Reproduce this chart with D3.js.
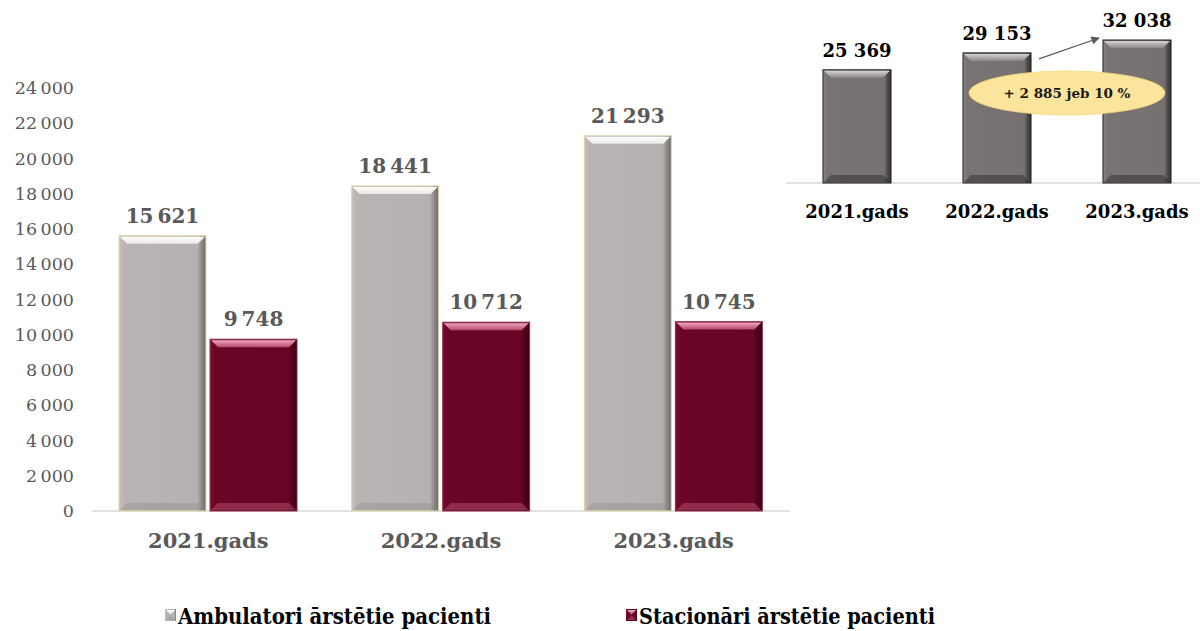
<!DOCTYPE html>
<html><head><meta charset="utf-8">
<script src="https://cdn.jsdelivr.net/npm/d3@7"></script>
<style>body{margin:0;background:#fff}svg{display:block}</style>
</head><body>
<svg id="c" width="1200" height="631"></svg>
<script>
const categories = ["2021.gads", "2022.gads", "2023.gads"];
const seriesNames = ["Ambulatori ārstētie pacienti", "Stacionāri ārstētie pacienti"];
const ambulatori = [15621, 18441, 21293];
const stacionari = [9748, 10712, 10745];
const totals = [25369, 29153, 32038];
const yTicks = [0,2000,4000,6000,8000,10000,12000,14000,16000,18000,20000,22000,24000];
const changeLabel = "+ 2 885 jeb 10 %";

const loc = d3.formatLocale({decimal: ",", thousands: "\u2009", grouping: [3], currency: ["", ""]});
const fmt = loc.format(",d");
const loc2 = d3.formatLocale({decimal: ",", thousands: " ", grouping: [3], currency: ["", ""]});
const fmt2 = loc2.format(",d");

const svg = d3.select("#c");
const defs = svg.append("defs");
function hgrad(id, stops){
  const g = defs.append("linearGradient").attr("id", id).attr("x1","0").attr("x2","1").attr("y1","0").attr("y2","0");
  stops.forEach(s=>g.append("stop").attr("offset",s[0]).attr("stop-color",s[1]));
}
function vgrad(id, stops){
  const g = defs.append("linearGradient").attr("id", id).attr("x1","0").attr("x2","0").attr("y1","0").attr("y2","1");
  stops.forEach(s=>g.append("stop").attr("offset",s[0]).attr("stop-color",s[1]));
}
hgrad("gGray", [[0,"#c4c0bf"],[0.06,"#b9b5b4"],[0.9,"#b5b1b0"],[0.95,"#8d8988"],[1,"#6e6a69"]]);
hgrad("gRed", [[0,"#7a0a2e"],[0.06,"#6b0525"],[0.9,"#680424"],[0.95,"#4e021a"],[1,"#3a0012"]]);
hgrad("gDark", [[0,"#8a8383"],[0.06,"#7a7373"],[0.9,"#767070"],[0.95,"#4f4a4a"],[1,"#333"]]);
vgrad("tGray", [[0,"#ffffff"],[1,"#e9e7e6"]]);
vgrad("tRed", [[0,"#f2a6bd"],[1,"#b34a6a"]]);
vgrad("tDark", [[0,"#d8d3d3"],[1,"#8d8686"]]);

const serif = "'DejaVu Serif','Liberation Serif',serif";

function bevelBar(g, x, y, w, h, fillId, topId, botColor, stroke, botOp){
  const b = Math.min(8, h/2);
  g.append("rect").attr("x",x).attr("y",y).attr("width",w).attr("height",h)
    .attr("fill",`url(#${fillId})`).attr("stroke",stroke).attr("stroke-width",1);
  g.append("path").attr("d",`M${x+1},${y+1}L${x+w-1},${y+1}L${x+w-b},${y+b}L${x+b},${y+b}Z`)
    .attr("fill",`url(#${topId})`);
  g.append("path").attr("d",`M${x+1},${y+h-1}L${x+w-1},${y+h-1}L${x+w-b},${y+h-b}L${x+b},${y+h-b}Z`)
    .attr("fill",botColor).attr("opacity",botOp);
}

// ---- main chart ----
const x0 = d3.scaleBand().domain(categories).range([92, 790]).paddingInner(0).paddingOuter(0);
const x1 = d3.scaleBand().domain([0,1]).range([27, 205]).paddingInner(0.045);
const y = d3.scaleLinear().domain([0, 24000]).range([511, 88]);

const yAxis = svg.append("g").attr("transform","translate(80,0)")
  .call(d3.axisLeft(y).tickValues(yTicks).tickSize(0).tickPadding(6).tickFormat(fmt));
yAxis.select(".domain").remove();
yAxis.selectAll("text").attr("font-family",serif).attr("font-size",17.5).attr("fill","#595959");

svg.append("line").attr("x1",92).attr("x2",790).attr("y1",y(0)).attr("y2",y(0))
  .attr("stroke","#d9d9d9").attr("stroke-width",1.5);

const series = [ambulatori, stacionari];
const styles = [
  {fill:"gGray", top:"tGray", bot:"#8a8685", stroke:"#e3d6a8", op:0.35},
  {fill:"gRed", top:"tRed", bot:"#c05a7a", stroke:"#8a3050", op:0.45}
];
categories.forEach((c,i)=>{
  series.forEach((s,j)=>{
    const bx = x0(c) + x1(j), bw = x1.bandwidth();
    const by = y(s[i]), bh = y(0) - y(s[i]);
    bevelBar(svg.append("g"), bx, by, bw, bh, styles[j].fill, styles[j].top, styles[j].bot, styles[j].stroke, styles[j].op);
    svg.append("text").attr("x", bx + bw/2).attr("y", by - 13)
      .attr("text-anchor","middle").attr("font-family",serif).attr("font-weight","bold")
      .attr("font-size",20).attr("fill","#595959").text(fmt(s[i]));
  });
  svg.append("text").attr("x", x0(c) + x0.bandwidth()/2).attr("y", 548)
    .attr("text-anchor","middle").attr("font-family",serif).attr("font-weight","bold")
    .attr("font-size",21).attr("fill","#595959").text(c);
});

// legend
const legendX = [165, 626];
const legendW = [313, 296];
seriesNames.forEach((n,j)=>{
  const g = svg.append("g");
  bevelBar(g, legendX[j], 609, 11, 12, styles[j].fill, styles[j].top, styles[j].bot, "none", styles[j].op);
  g.append("text").attr("x", legendX[j]+13).attr("y", 624)
    .attr("font-family",serif).attr("font-weight","bold").attr("font-size",22)
    .attr("fill","#000").attr("textLength", legendW[j]).attr("lengthAdjust","spacingAndGlyphs").text(n);
});

// ---- inset chart ----
const ix = d3.scaleBand().domain(categories).range([787, 1207]).paddingInner(0.514).paddingOuter(0.257);
const iy = d3.scaleLinear().domain([0, 41000]).range([183, 0]);
svg.append("line").attr("x1",786).attr("x2",1200).attr("y1",iy(0)).attr("y2",iy(0))
  .attr("stroke","#d9d9d9").attr("stroke-width",1.5);
categories.forEach((c,i)=>{
  const bx = ix(c), bw = ix.bandwidth();
  const by = iy(totals[i]), bh = iy(0)-iy(totals[i]);
  bevelBar(svg.append("g"), bx, by, bw, bh, "gDark", "tDark", "#2a2626", "#222", 0.45);
  svg.append("text").attr("x", bx+bw/2).attr("y", by-13)
    .attr("text-anchor","middle").attr("font-family",serif).attr("font-weight","bold")
    .attr("font-size",18).attr("fill","#000").text(fmt2(totals[i]));
  svg.append("text").attr("x", bx+bw/2).attr("y", 218)
    .attr("text-anchor","middle").attr("font-family",serif).attr("font-weight","bold")
    .attr("font-size",18).attr("fill","#000").text(c);
});

// arrow
defs.append("marker").attr("id","arr").attr("viewBox","0 0 10 10").attr("refX",9).attr("refY",5)
  .attr("markerWidth",7).attr("markerHeight",7).attr("orient","auto")
  .append("path").attr("d","M0,0L10,5L0,10Z").attr("fill","#595959");
const a0x = ix(categories[1]) + ix.bandwidth() + 8, a0y = iy(totals[1]) + 6;
const a1x = ix(categories[2]) - 4, a1y = iy(totals[2]) - 2;
svg.append("line").attr("x1",a0x).attr("y1",a0y).attr("x2",a1x).attr("y2",a1y)
  .attr("stroke","#595959").attr("stroke-width",1.2).attr("marker-end","url(#arr)");

// ellipse annotation
const ecx = (ix(categories[1]) + ix(categories[2]) + ix.bandwidth())/2;
svg.append("ellipse").attr("cx",ecx).attr("cy",93).attr("rx",98).attr("ry",22)
  .attr("fill","#fbe49b").attr("stroke","#f3d77a").attr("stroke-width",0.8);
svg.append("text").attr("x",ecx).attr("y",98).attr("text-anchor","middle")
  .attr("font-family",serif).attr("font-weight","bold").attr("font-size",13.5).attr("fill","#1a1a1a")
  .text(changeLabel);
</script>
</body></html>
